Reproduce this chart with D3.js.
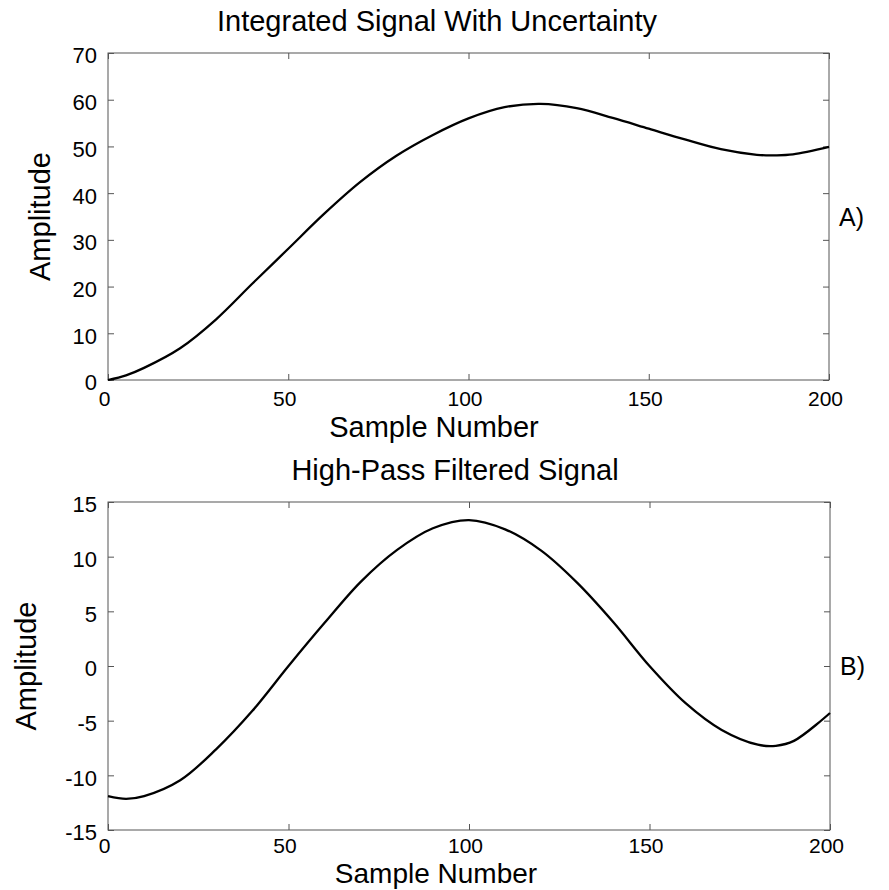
<!DOCTYPE html>
<html>
<head>
<meta charset="utf-8">
<script src="https://cdn.jsdelivr.net/npm/d3@7"></script>
<style>
  body { margin: 0; background: #fff; }
  svg { font-family: "Liberation Sans", Arial, Helvetica, sans-serif; }
</style>
</head>
<body>
<svg id="chart" width="889" height="890"></svg>
<script>
// sample positions
const samples = [0, 5, 10, 20, 30, 40, 50, 60, 70, 80, 90, 100, 110, 120, 130, 140, 150, 160, 170, 180, 185, 190, 200];

// A) integrated signal
const integrated = [0, 1.0, 2.6, 6.8, 13.0, 20.6, 28.1, 35.6, 42.4, 48.0, 52.4, 56.0, 58.4, 59.1, 58.2, 56.1, 53.8, 51.5, 49.4, 48.2, 48.1, 48.3, 49.9];

// B) high-pass filtered signal
const highPass = [-11.9, -12.15, -11.9, -10.45, -7.6, -4.1, 0.0, 3.95, 7.7, 10.6, 12.6, 13.35, 12.5, 10.55, 7.6, 4.0, 0.0, -3.4, -5.85, -7.2, -7.3, -6.85, -4.3];

const xTicks = [0, 50, 100, 150, 200];
const yTicksA = [0, 10, 20, 30, 40, 50, 60, 70];
const yTicksB = [-15, -10, -5, 0, 5, 10, 15];

const svg = d3.select("#chart");

function drawPanel(opt) {
  const x = d3.scaleLinear().domain([0, 200]).range([opt.left, opt.right]);
  const y = d3.scaleLinear().domain(opt.yDomain).range([opt.bottom, opt.top]);
  const g = svg.append("g");

  // frame
  g.append("rect")
    .attr("x", opt.left).attr("y", opt.top)
    .attr("width", opt.right - opt.left)
    .attr("height", opt.bottom - opt.top)
    .attr("fill", "none")
    .attr("stroke", "#555")
    .attr("stroke-width", 1);

  // bottom axis: inward ticks + labels
  const xb = g.append("g")
    .attr("transform", `translate(0,${opt.bottom})`)
    .call(d3.axisBottom(x).tickValues(xTicks).tickSize(-6).tickPadding(opt.xPad).tickFormat(d => d));
  xb.select(".domain").remove();
  xb.selectAll("text").attr("dx", -4).style("font-size", "21px").attr("fill", "#000");

  // top axis ticks only
  const xt = g.append("g")
    .attr("transform", `translate(0,${opt.top})`)
    .call(d3.axisTop(x).tickValues(xTicks).tickSize(-6).tickFormat(""));
  xt.select(".domain").remove();

  // left axis
  const yl = g.append("g")
    .attr("transform", `translate(${opt.left},0)`)
    .call(d3.axisLeft(y).tickValues(opt.yTicks).tickSize(-6).tickPadding(11).tickFormat(d => String(d)));
  yl.select(".domain").remove();
  yl.selectAll("text").attr("dy", "0.45em").style("font-size", "22px").attr("fill", "#000");

  // right axis ticks only
  const yr = g.append("g")
    .attr("transform", `translate(${opt.right},0)`)
    .call(d3.axisRight(y).tickValues(opt.yTicks).tickSize(-6).tickFormat(""));
  yr.select(".domain").remove();

  g.selectAll(".tick line").attr("stroke", "#555");

  // curve
  const line = d3.line()
    .x((d, i) => x(samples[i]))
    .y(d => y(d))
    .curve(d3.curveCatmullRom.alpha(0.5));
  g.append("path")
    .datum(opt.values)
    .attr("d", line)
    .attr("fill", "none")
    .attr("stroke", "#000")
    .attr("stroke-width", 2.3);

  // title
  g.append("text")
    .attr("x", opt.titleX).attr("y", opt.top - 22)
    .attr("text-anchor", "middle")
    .style("font-size", "29px")
    .text(opt.title);

  // x label
  g.append("text")
    .attr("x", opt.xLabelX).attr("y", opt.bottom + opt.xLabelDy)
    .attr("text-anchor", "middle")
    .style("font-size", opt.xLabelSize)
    .text("Sample Number");

  // y label
  const midY = (opt.top + opt.bottom) / 2;
  g.append("text")
    .attr("transform", `translate(${opt.yLabelX},${midY}) rotate(-90)`)
    .attr("text-anchor", "middle")
    .style("font-size", "29px")
    .text("Amplitude");

  // panel letter
  g.append("text")
    .attr("x", opt.right + 10).attr("y", midY + 9)
    .style("font-size", "25px")
    .text(opt.letter);
}

drawPanel({
  left: 108, right: 829, top: 53, bottom: 380,
  yDomain: [0, 70], yTicks: yTicksA, values: integrated,
  title: "Integrated Signal With Uncertainty", titleX: 437,
  xPad: 11, xLabelDy: 57, xLabelSize: "29px",
  xLabelX: 434, yLabelX: 50, letter: "A)"
});

drawPanel({
  left: 108, right: 830, top: 502, bottom: 830,
  yDomain: [-15, 15], yTicks: yTicksB, values: highPass,
  title: "High-Pass Filtered Signal", titleX: 455,
  xPad: 8, xLabelDy: 53, xLabelSize: "28px",
  xLabelX: 436, yLabelX: 36, letter: "B)"
});
</script>
</body>
</html>
